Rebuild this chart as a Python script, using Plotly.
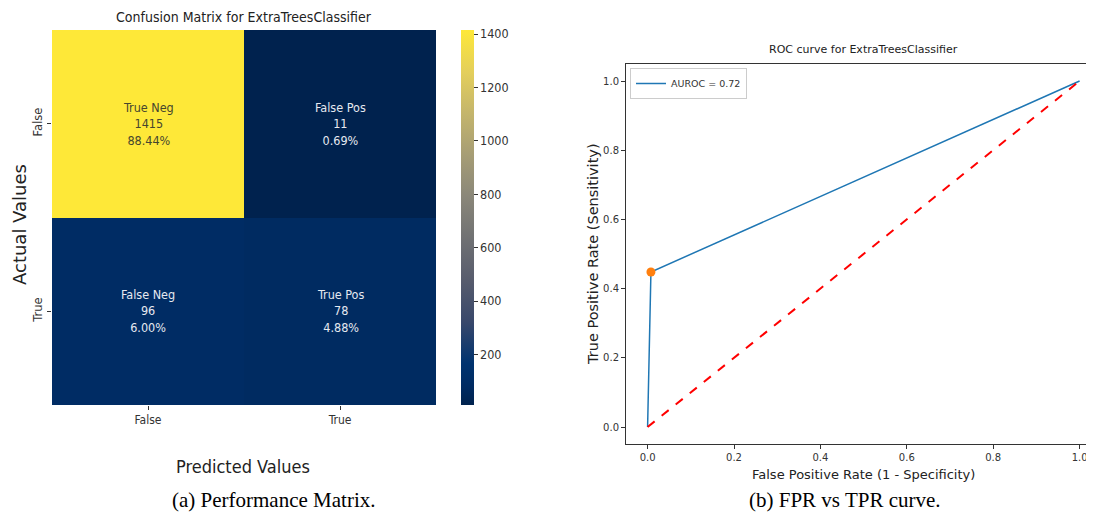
import plotly.graph_objects as go

# ---- data ----
pred_labels = ["False", "True"]
actual_labels = ["False", "True"]
cm_values = [[1415, 11], [96, 78]]
cell_names = [["True Neg", "False Pos"], ["False Neg", "True Pos"]]
cell_pcts = [["88.44%", "0.69%"], ["6.00%", "4.88%"]]
cbar_ticks = [200, 400, 600, 800, 1000, 1200, 1400]

roc_fpr = [0.0, 0.0077, 1.0]
roc_tpr = [0.0, 0.448, 1.0]
opt_fpr = [0.0077]
opt_tpr = [0.448]
chance = [0.0, 1.0]
auroc = 0.72
roc_ticks = [0.0, 0.2, 0.4, 0.6, 0.8, 1.0]

# page body has an 8px margin; size the figure so it fills the window
OFF = 8
W, H = 1094 - OFF, 515 - OFF
def px(x): return (x - OFF) / W
def py(y): return 1 - (y - OFF) / H

cividis = [
    [0.0, "#00224e"], [0.05, "#002b62"], [0.111, "#00336f"], [0.222, "#39486b"],
    [0.333, "#575c6d"], [0.444, "#707173"], [0.556, "#8a8779"], [0.667, "#a69d75"],
    [0.778, "#c4b56c"], [0.889, "#e4cf5b"], [1.0, "#fee838"],
]

FONT = "DejaVu Sans, sans-serif"
NARROW = "DejaVu Sans Condensed, DejaVu Sans, sans-serif"
SERIF = "Liberation Serif, Times New Roman, serif"
fig = go.Figure()

fig.add_trace(go.Heatmap(
    z=cm_values, x=pred_labels, y=actual_labels,
    colorscale=cividis, zmin=11, zmax=1415,
    xgap=0, ygap=0, hoverinfo="skip",
    colorbar=dict(
        x=px(461), xanchor="left", y=py(30), yanchor="top",
        len=(405 - 30) / H, lenmode="fraction", thickness=13,
        xpad=0, ypad=0,
        outlinewidth=0, tickvals=cbar_ticks, ticks="outside", ticklen=4,
        tickcolor="#333", tickfont=dict(size=12.5, color="#333", family=NARROW),
    ),
    xaxis="x", yaxis="y",
))

# cell annotations
zmax = max(max(r) for r in cm_values)
for i, a in enumerate(actual_labels):
    for j, p in enumerate(pred_labels):
        v = cm_values[i][j]
        col = "#46462e" if v > zmax * 0.6 else "#e6e9f0"
        fig.add_annotation(
            x=p, y=a, xref="x", yref="y",
            text=f"{cell_names[i][j]}<br>{v}<br>{cell_pcts[i][j]}",
            showarrow=False, font=dict(size=12.5, color=col, family=NARROW),
        )

# ROC traces
fig.add_trace(go.Scatter(
    x=roc_fpr, y=roc_tpr, mode="lines", name=f"AUROC = {auroc:.2f}",
    line=dict(color="#1f77b4", width=1.5), xaxis="x2", yaxis="y2",
))
fig.add_trace(go.Scatter(
    x=chance, y=chance, mode="lines", showlegend=False,
    line=dict(color="red", width=2, dash="dash"), xaxis="x2", yaxis="y2",
))
fig.add_trace(go.Scatter(
    x=opt_fpr, y=opt_tpr, mode="markers", showlegend=False,
    marker=dict(color="#ff7f0e", size=9), xaxis="x2", yaxis="y2",
))

x2_lo = -0.05
x2_hi = x2_lo + (1094 - 626) / 432.0

fig.update_layout(
    width=W, height=H, margin=dict(l=0, r=0, t=0, b=0),
    paper_bgcolor="white", plot_bgcolor="white",
    font=dict(family=FONT, color="#333"),
    xaxis=dict(domain=[px(52), px(436)], anchor="y", ticks="outside", ticklen=4,
               tickcolor="#333", showgrid=False, zeroline=False, showline=False,
               tickfont=dict(size=12, color="#333", family=NARROW)),
    yaxis=dict(domain=[py(405), py(30)], anchor="x", autorange="reversed",
               ticks="outside", ticklen=4, tickcolor="#333", tickangle=-90,
               showgrid=False, zeroline=False, showline=False,
               tickfont=dict(size=11.5, color="#333", family=FONT)),
    xaxis2=dict(domain=[px(626), 1.0], anchor="y2", range=[x2_lo, x2_hi],
                tickvals=roc_ticks, ticktext=[f"{t:.1f}" for t in roc_ticks],
                ticks="outside", ticklen=4, tickcolor="#333",
                showline=True, linecolor="#333", linewidth=1, mirror=True,
                showgrid=False, zeroline=False,
                tickfont=dict(size=10, color="#333")),
    yaxis2=dict(domain=[py(444.3), py(63.7)], anchor="x2", range=[-0.05, 1.05],
                tickvals=roc_ticks, ticktext=[f"{t:.1f}" for t in roc_ticks],
                ticks="outside", ticklen=4, tickcolor="#333",
                showline=True, linecolor="#333", linewidth=1, mirror=True,
                showgrid=False, zeroline=False,
                tickfont=dict(size=10, color="#333")),
    legend=dict(x=px(630), y=py(68), xanchor="left", yanchor="top",
                bgcolor="rgba(255,255,255,0.8)", bordercolor="#ccc", borderwidth=1,
                font=dict(size=9.5, color="#333"), itemwidth=30,
                tracegroupgap=0),
    showlegend=True,
)

texts = [
    ("Confusion Matrix for ExtraTreesClassifier", 244, 17.5, 14, 0, NARROW, "#222"),
    ("Actual Values", 20, 225, 18, -90, FONT, "#222"),
    ("Predicted Values", 243, 466, 18, 0, NARROW, "#222"),
    ("ROC curve for ExtraTreesClassifier", 863, 50, 11, 0, FONT, "#222"),
    ("True Positive Rate (Sensitivity)", 593, 254, 14.5, -90, FONT, "#222"),
    ("False Positive Rate (1 - Specificity)", 863, 474, 13, 0, FONT, "#222"),
    ("(a) Performance Matrix.", 274, 500, 21, 0, SERIF, "#000"),
    ("(b) FPR vs TPR curve.", 845, 500, 21, 0, SERIF, "#000"),
]
for t, x, y, s, ang, fam, col in texts:
    fig.add_annotation(text=t, x=px(x), y=py(y), xref="paper", yref="paper",
                       showarrow=False, textangle=ang, xanchor="center", yanchor="middle",
                       font=dict(size=s, family=fam, color=col))

fig.write_html("out.html")
